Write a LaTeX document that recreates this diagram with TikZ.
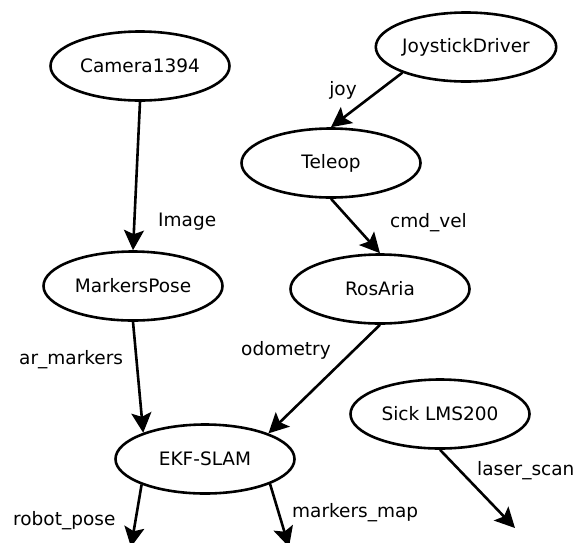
\documentclass[tikz,border=0pt]{standalone}
\usepackage{fontspec}
\setmainfont{DejaVu Sans}
\usetikzlibrary{arrows.meta,shapes.geometric}

\begin{document}
\begin{tikzpicture}[x=1pt,y=-1pt,
    rosnode/.style={draw=black, line width=2.6pt, ellipse, minimum width=179pt, minimum height=69pt, inner sep=0pt, font=\fontsize{18.5}{22}\selectfont},
    topic/.style={anchor=base west, inner sep=0pt, font=\fontsize{18.5}{22}\selectfont},
    msg/.style={draw=black, line width=2.6pt, -{Stealth[length=20pt, width=20pt, inset=4pt]}}]
    \useasboundingbox (0,0) rectangle (578,542);
    % nodes
    \node[rosnode] (camera) at (140,66) {Camera1394};
    \node[rosnode] (joystick) at (466,47) {JoystickDriver};
    \node[rosnode] (teleop) at (331,163) {Teleop};
    \node[rosnode] (markerspose) at (133,286) {MarkersPose};
    \node[rosnode] (rosaria) at (380,289) {RosAria};
    \node[rosnode] (sick) at (440,414) {Sick LMS200};
    \node[rosnode] (ekfslam) at (205,459) {EKF-SLAM};
    \coordinate (scanend) at (515,528);
    \coordinate (poseend) at (131,547);
    \coordinate (mapend) at (289,547);
    % topics
    \draw[msg] (camera.south) -- (markerspose.north);
    \draw[msg] (joystick.202) -- (teleop.north);
    \draw[msg] (teleop.south) -- (rosaria.north);
    \draw[msg] (markerspose.south) -- (ekfslam.157);
    \draw[msg] (rosaria.south) -- (ekfslam.22);
    \draw[msg] (sick.south) -- (scanend);
    \draw[msg] (ekfslam.202) -- (poseend);
    \draw[msg] (ekfslam.339) -- (mapend);
    % labels
    \node[topic] (lbimage) at (158,226) {Image};
    \node[topic, anchor=base] (lbjoy) at (343,95) {joy};
    \node[topic] (lbcmdvel) at (390,227) {cmd\_vel};
    \node[topic] (lbarmarkers) at (19,364) {ar\_markers};
    \node[topic] (lbodometry) at (241,355) {odometry};
    \node[topic] (lblaserscan) at (477,475) {laser\_scan};
    \node[topic] (lbrobotpose) at (13,525) {robot\_pose};
    \node[topic] (lbmarkersmap) at (292,517) {markers\_map};
\end{tikzpicture}
\end{document}
